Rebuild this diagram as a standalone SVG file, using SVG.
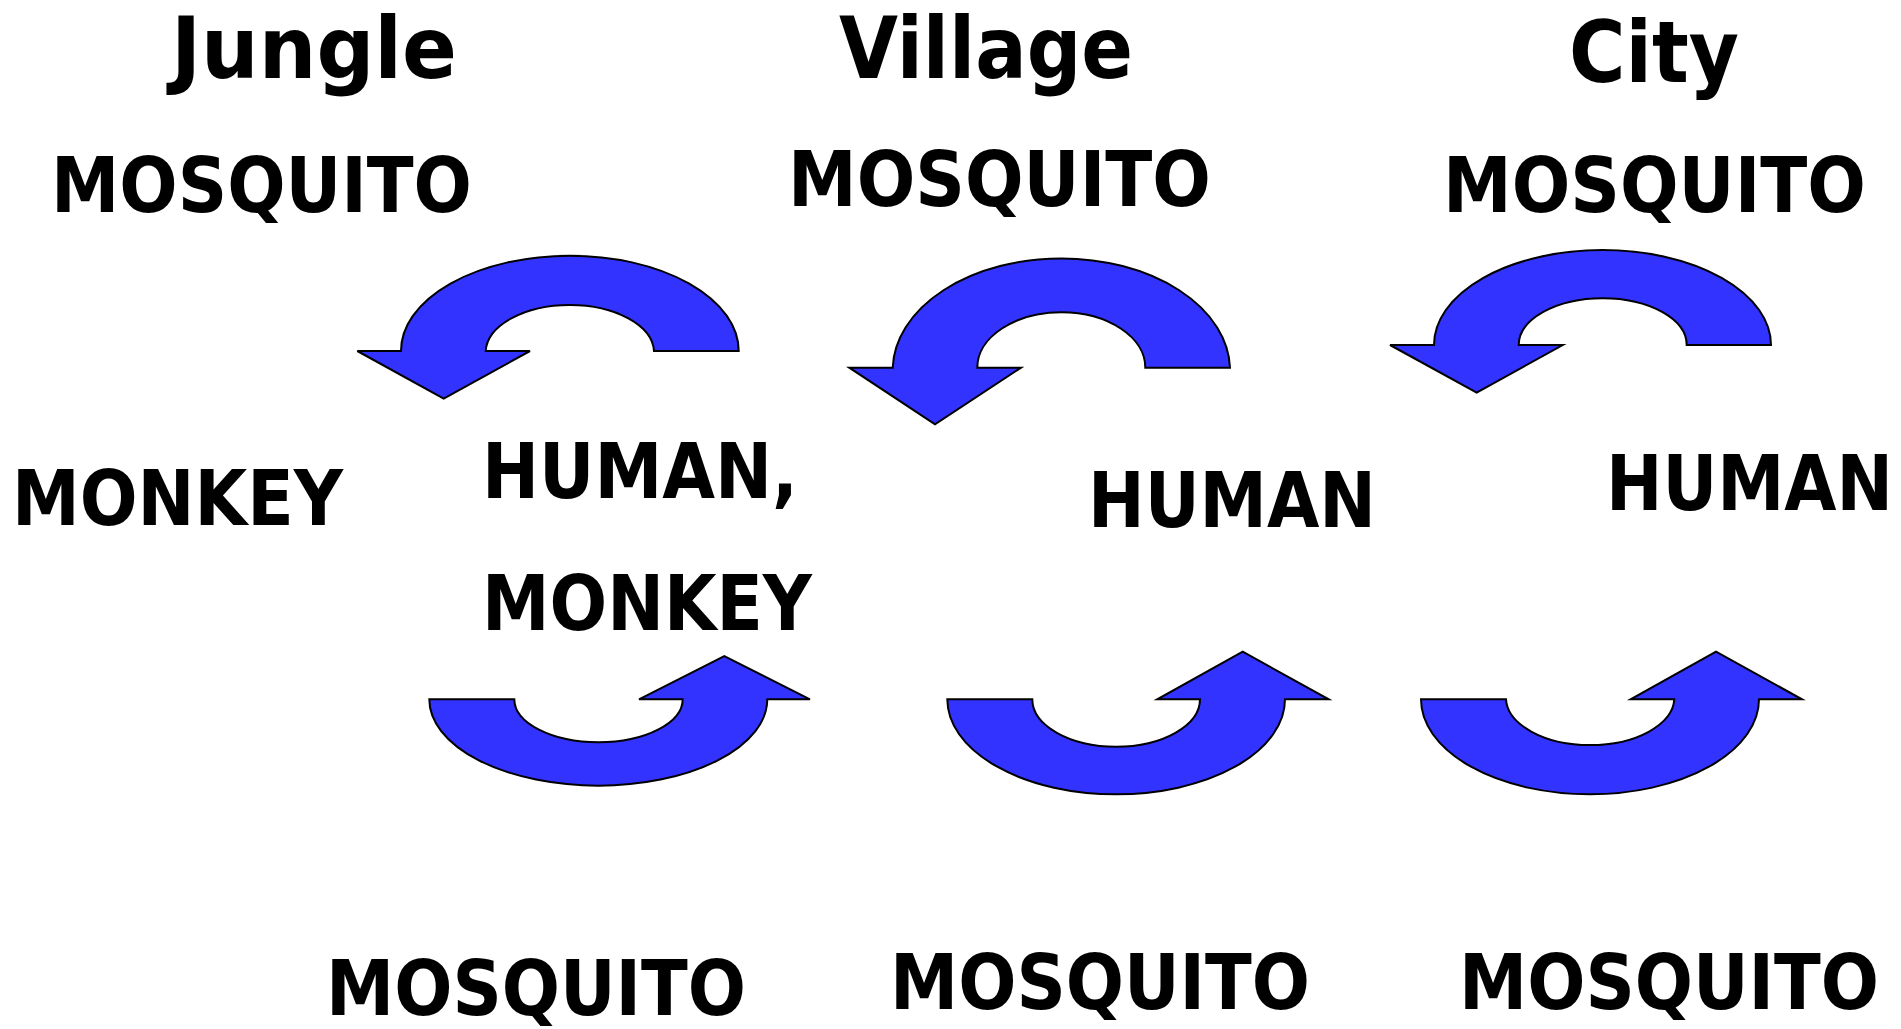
<svg xmlns="http://www.w3.org/2000/svg" width="1901" height="1029" viewBox="0 0 1901 1029">
<style>
.arrow{fill:#3333FF;stroke:#000;stroke-width:2;stroke-linejoin:miter}
.t{font-family:"DejaVu Sans","Liberation Sans",sans-serif;font-weight:bold;fill:#000}
.h{font-size:86px}
.l{font-size:76px}
</style>
<rect width="1901" height="1029" fill="#fff"/>
<g id="titles">
<text id="t-jungle" class="t h" x="171" y="78" textLength="286" lengthAdjust="spacingAndGlyphs">Jungle</text>
<text id="t-village" class="t h" x="839" y="78" textLength="294" lengthAdjust="spacingAndGlyphs">Village</text>
<text id="t-city" class="t h" x="1569" y="82" textLength="170" lengthAdjust="spacingAndGlyphs">City</text>
</g>
<g id="node-jungle-mosquito-top"><text class="t l" x="51" y="212" textLength="421" lengthAdjust="spacingAndGlyphs">MOSQUITO</text></g>
<g id="node-village-mosquito-top"><text class="t l" x="788" y="206" textLength="423" lengthAdjust="spacingAndGlyphs">MOSQUITO</text></g>
<g id="node-city-mosquito-top"><text class="t l" x="1443" y="212" textLength="423" lengthAdjust="spacingAndGlyphs">MOSQUITO</text></g>
<g id="node-jungle-monkey"><text class="t l" x="12" y="525" textLength="331" lengthAdjust="spacingAndGlyphs">MONKEY</text></g>
<g id="node-jungle-human-monkey">
<text class="t l" x="482" y="498" textLength="316" lengthAdjust="spacingAndGlyphs">HUMAN,</text>
<text class="t l" x="482" y="630" textLength="330" lengthAdjust="spacingAndGlyphs">MONKEY</text>
</g>
<g id="node-village-human"><text class="t l" x="1088" y="527" textLength="288" lengthAdjust="spacingAndGlyphs">HUMAN</text></g>
<g id="node-city-human"><text class="t l" x="1606" y="510" textLength="287" lengthAdjust="spacingAndGlyphs">HUMAN</text></g>
<g id="node-jungle-mosquito-bottom"><text class="t l" x="326" y="1015" textLength="420" lengthAdjust="spacingAndGlyphs">MOSQUITO</text></g>
<g id="node-village-mosquito-bottom"><text class="t l" x="890" y="1009" textLength="420" lengthAdjust="spacingAndGlyphs">MOSQUITO</text></g>
<g id="node-city-mosquito-bottom"><text class="t l" x="1459" y="1009" textLength="420" lengthAdjust="spacingAndGlyphs">MOSQUITO</text></g>
<g id="connectors">
<path class="arrow" d="M738.7 351 A168.8 95.3 0 0 0 401 351 L357.3 351 L443.7 398.7 L530 351 L485.7 351 A84.2 47.7 0 0 1 654 351 Z"/>
<path class="arrow" d="M1230 367.7 A168.7 112 0 0 0 892.7 367.7 L849.3 367.7 L935 424.3 L1021 367.7 L977.3 367.7 A84 55.4 0 0 1 1145.3 367.7 Z"/>
<path class="arrow" d="M1771 345 A168.5 95 0 0 0 1434 345 L1390 345 L1476.7 392.7 L1562.7 345 L1518.7 345 A84 46.7 0 0 1 1686.7 345 Z"/>
<path class="arrow" d="M429.3 699.3 A169 86.4 0 0 0 767.3 699.3 L810 699.3 L724.3 656 L639 699.3 L682.7 699.3 A84.2 43 0 0 1 514.3 699.3 Z"/>
<path class="arrow" d="M947.3 699.3 A168.8 95 0 0 0 1285 699.3 L1328.7 699.3 L1242.7 651.7 L1157.3 699.3 L1200 699.3 A83.8 47.4 0 0 1 1032.3 699.3 Z"/>
<path class="arrow" d="M1421 699.3 A169 95 0 0 0 1759 699.3 L1802 699.3 L1716 651.7 L1630.7 699.3 L1674.3 699.3 A84.2 47.4 0 0 1 1506 699.3 Z"/>
</g>
</svg>
